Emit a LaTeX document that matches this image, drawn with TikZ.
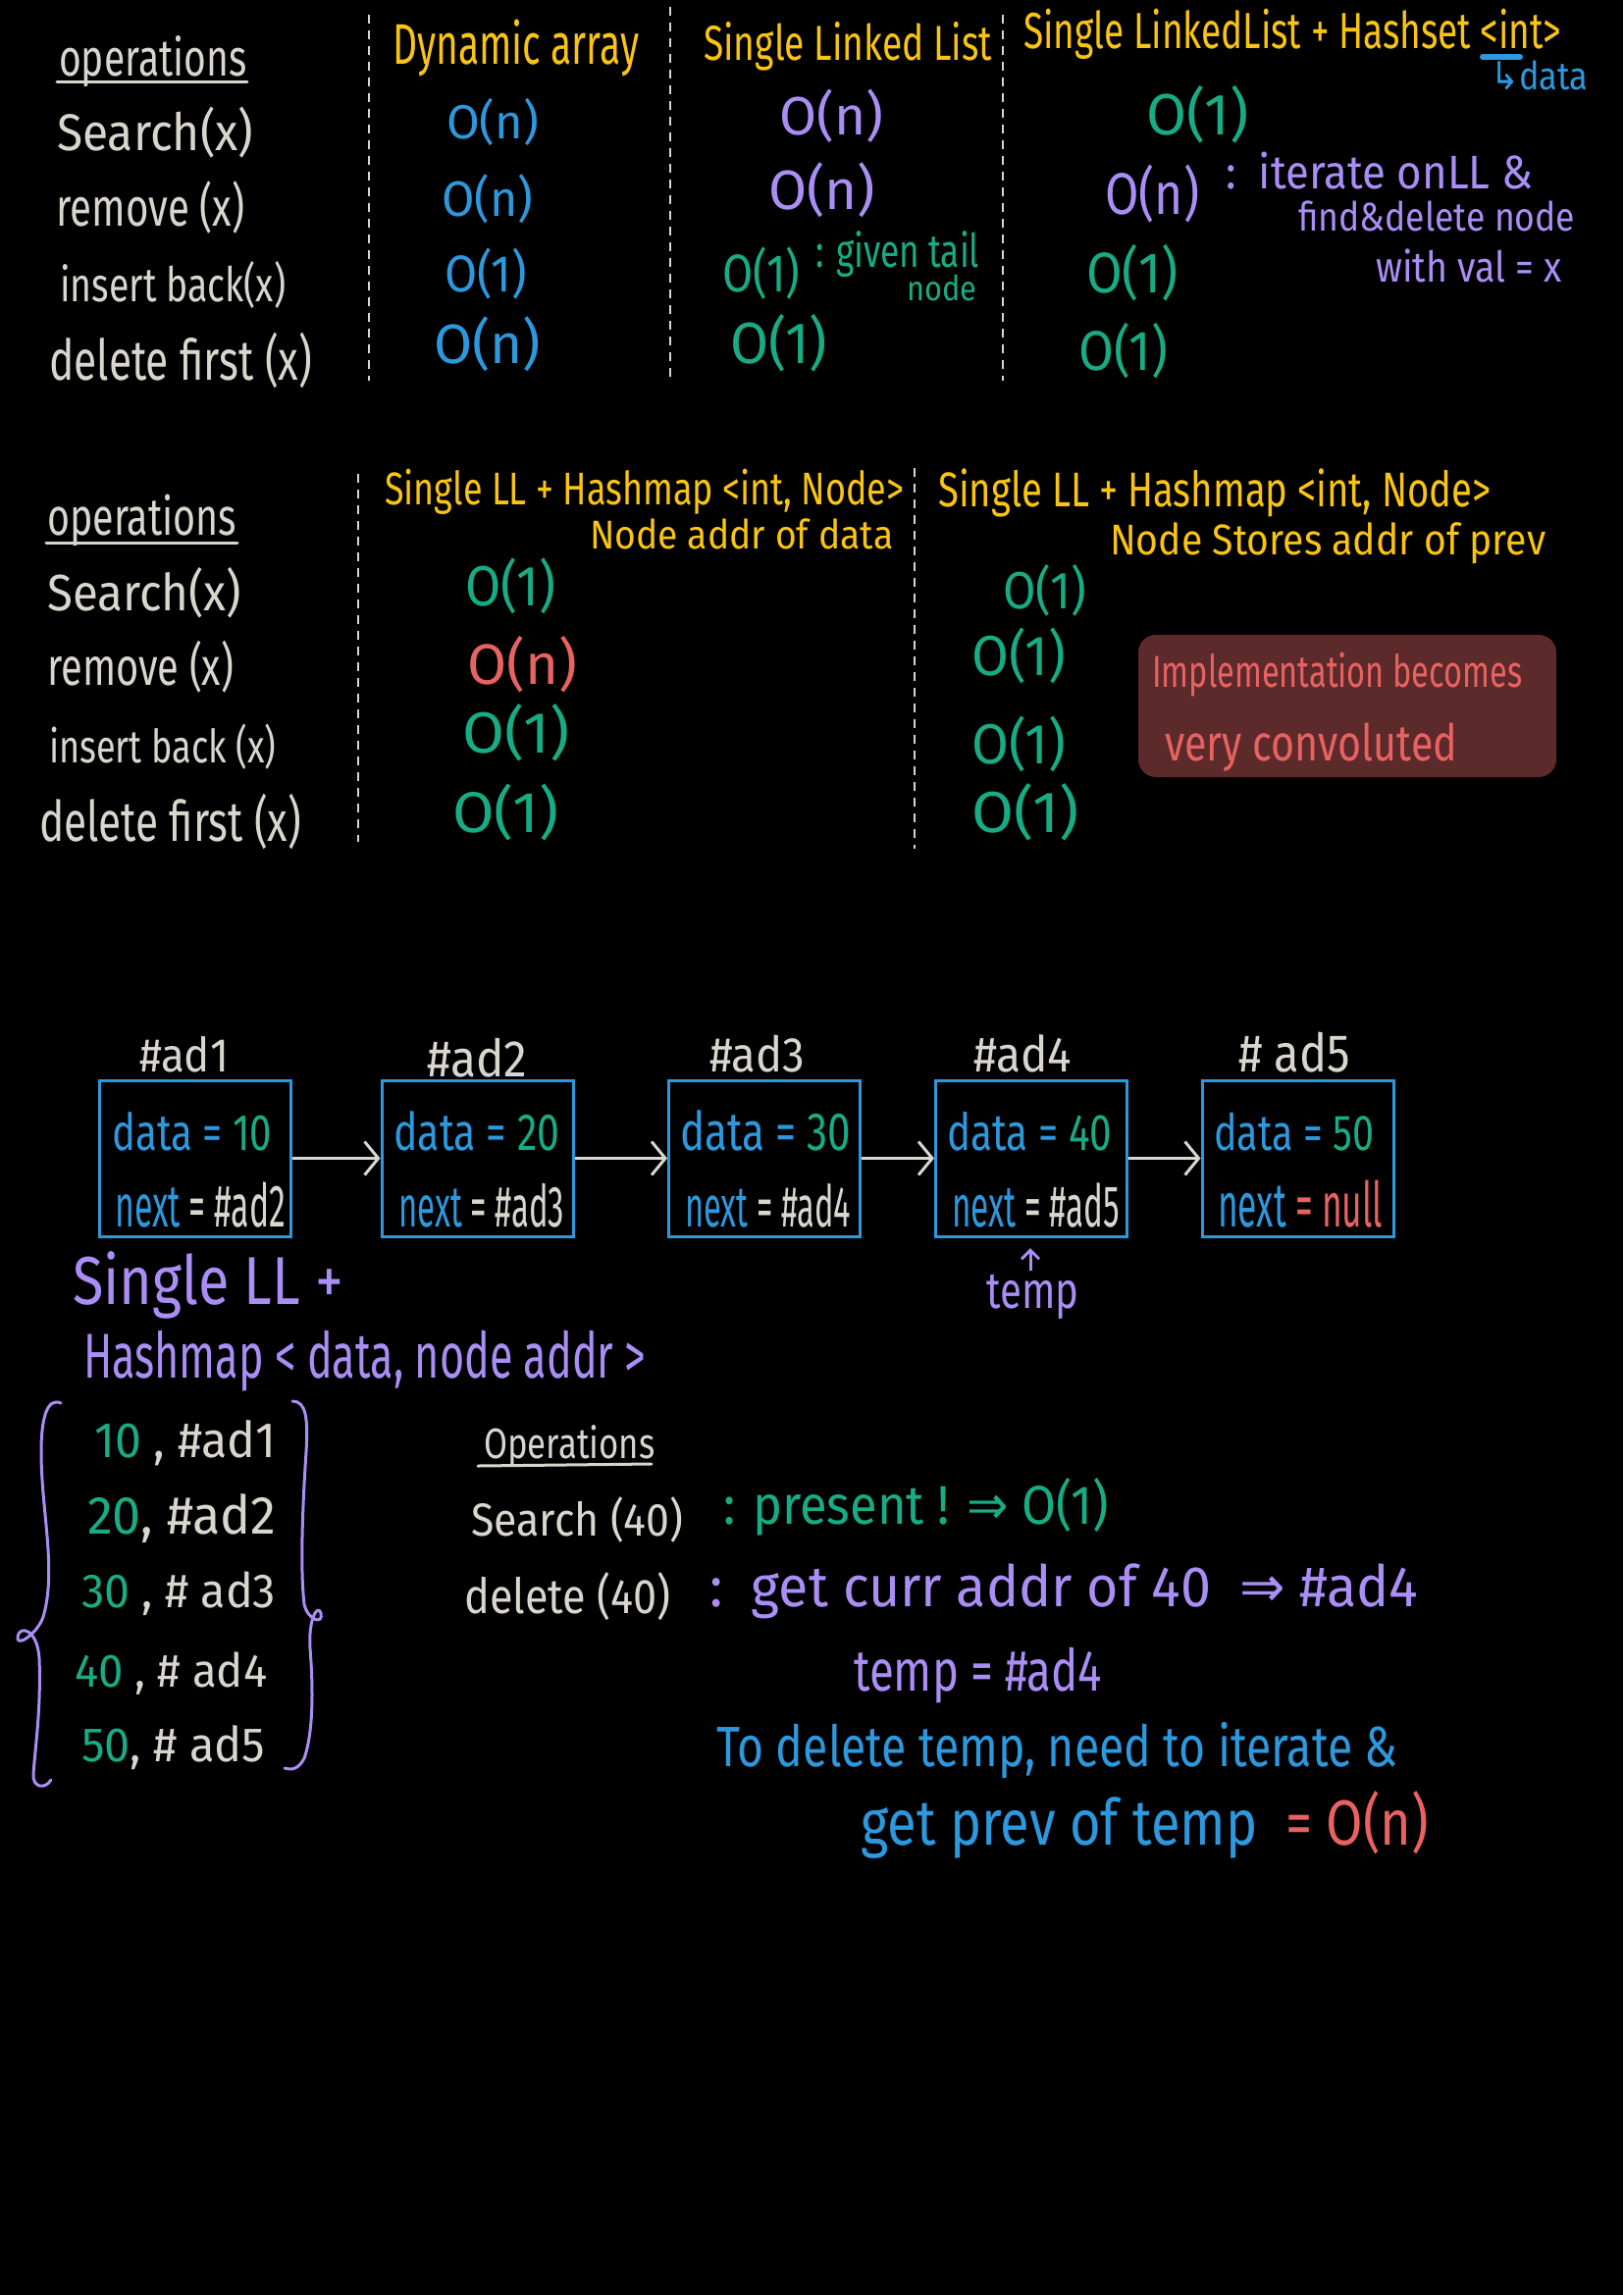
\documentclass[tikz,border=0pt]{standalone}
\usepackage{fontspec}
\setmainfont{Fira Sans}
\newfontfamily\symf{DejaVu Sans}
\usetikzlibrary{arrows.meta,calc}
\definecolor{chalk}{RGB}{217,214,206}
\definecolor{hyel}{RGB}{250,196,18}
\definecolor{hblue}{RGB}{45,152,222}
\definecolor{hpur}{RGB}{170,142,245}
\definecolor{hgrn}{RGB}{24,172,132}
\definecolor{hred}{RGB}{232,98,98}
\definecolor{rfill}{RGB}{92,42,42}
\newcommand{\fw}[3]{\scalebox{1}[#2]{\resizebox{#1pt}{!}{#3}}}
\begin{document}
\begin{tikzpicture}[x=1pt,y=-1pt,
  t/.style={inner sep=0pt, anchor=base west},
  ch/.style={t,text=chalk},
  ye/.style={t,text=hyel},
  bl/.style={t,text=hblue},
  pu/.style={t,text=hpur},
  gr/.style={t,text=hgrn},
  rd/.style={t,text=hred},
  uline/.style={draw=chalk,line width=3pt,line cap=round},
  sep/.style={draw=chalk,line width=2.5pt,dash pattern=on 9pt off 7pt},
  llbox/.style={draw=hblue,line width=3pt,minimum width=195pt,minimum height=159pt,inner sep=0pt},
  llarrow/.style={draw=chalk,line width=3pt,-{Straight Barb[length=14pt,width=34pt,line width=3pt]}},
  tarrow/.style={draw=hpur,line width=3pt,-{Straight Barb[length=9pt,width=18pt,line width=3pt]}},
  bracepath/.style={draw=hpur,line width=3pt,line cap=round,line join=round},
  notebox/.style={fill=rfill,rounded corners=18pt,minimum width=426pt,minimum height=145pt,inner sep=0pt}
]
\fill[black] (0,0) rectangle (1654,2339);
\useasboundingbox (0,0) rectangle (1654,2339);

% ---------------- Table 1 ----------------
\node[ch] (op1) at (60,78) {\fw{191}{1.35}{operations}};
\draw[uline] (58,84) -- (252,84);
\node[ch] (s1) at (58,153) {\fw{200}{1.1}{Search(x)}};
\node[ch] (r1) at (57,230) {\fw{192}{1.35}{remove (x)}};
\node[ch] (i1) at (61,307) {\fw{230}{1.3}{insert back(x)}};
\node[ch] (d1) at (50,387) {\fw{268}{1.35}{delete first (x)}};

\draw[sep] (376,15) -- (376,388);
\draw[sep] (683,7) -- (683,385);
\draw[sep] (1022,15) -- (1022,388);

\node[ye] (h1) at (400,66) {\fw{251}{1.5}{Dynamic array}};
\node[ye] (h2) at (717,62) {\fw{294}{1.35}{Single Linked List}};
\node[ye] (h3) at (1043,50) {\fw{548}{1.4}{Single LinkedList + Hashset <int>}};
\draw[draw=hblue,line width=6pt,line cap=round] (1511,58) -- (1549,58);
\node[bl] (hd) at (1519,92) {\fw{99}{1.15}{{\symf ↳}data}};

\node[bl] (a1) at (455,142) {\fw{94}{1}{O(n)}};
\node[bl] (a2) at (450,220) {\fw{93}{1.05}{O(n)}};
\node[bl] (a3) at (453,297) {\fw{84}{1.1}{O(1)}};
\node[bl] (a4) at (442,370) {\fw{109}{1}{O(n)}};

\node[pu] (b1) at (794,137) {\fw{106}{1}{O(n)}};
\node[pu] (b2) at (783,213) {\fw{109}{1}{O(n)}};
\node[gr] (b3) at (736,297) {\fw{79}{1.2}{O(1)}};
\node[gr] (b3a) at (831,272) {\fw{167}{1.35}{: given tail}};
\node[gr] (b3b) at (924,306) {\fw{71}{1.15}{node}};
\node[gr] (b4) at (744,370) {\fw{99}{1.05}{O(1)}};

\node[gr] (c1) at (1168,137) {\fw{104}{1}{O(1)}};
\node[pu] (c2) at (1126,218) {\fw{96}{1.2}{O(n)}};
\node[pu] (c2a) at (1249,193) {\fw{313}{1.1}{:\ \ iterate onLL \&}};
\node[pu] (c2b) at (1323,235) {\fw{282}{1.15}{find\&delete node}};
\node[pu] (c2c) at (1402,287) {\fw{189}{1.15}{with val = x}};
\node[gr] (c3) at (1107,298) {\fw{93}{1.1}{O(1)}};
\node[gr] (c4) at (1099,377) {\fw{91}{1.1}{O(1)}};

% ---------------- Table 2 ----------------
\node[ch] (op2) at (48,545) {\fw{193}{1.35}{operations}};
\draw[uline] (47,553) -- (242,553);
\node[ch] (s2) at (48,622) {\fw{198}{1.1}{Search(x)}};
\node[ch] (r2) at (48,698) {\fw{190}{1.35}{remove (x)}};
\node[ch] (i2) at (50,777) {\fw{231}{1.3}{insert back (x)}};
\node[ch] (d2) at (40,857) {\fw{267}{1.35}{delete first (x)}};

\draw[sep] (365,483) -- (365,858);
\draw[sep] (932,477) -- (932,865);

\node[ye] (h4) at (392,514) {\fw{529}{1.3}{Single LL + Hashmap <int, Node>}};
\node[ye] (h4b) at (601,559) {\fw{309}{1.1}{Node addr of data}};
\node[ye] (h5) at (956,516) {\fw{563}{1.3}{Single LL + Hashmap <int, Node>}};
\node[ye] (h5b) at (1131,565) {\fw{444}{1.12}{Node Stores addr of prev}};

\node[gr] (e1) at (474,617) {\fw{92}{1.1}{O(1)}};
\node[rd] (e2) at (476,697) {\fw{112}{1}{O(n)}};
\node[gr] (e3) at (471,767) {\fw{109}{0.95}{O(1)}};
\node[gr] (e4) at (461,848) {\fw{108}{0.95}{O(1)}};

\node[gr] (f1) at (1022,620) {\fw{85}{1.1}{O(1)}};
\node[gr] (f2) at (990,688) {\fw{96}{1.05}{O(1)}};
\node[gr] (f3) at (990,778) {\fw{96}{1.05}{O(1)}};
\node[gr] (f4) at (990,848) {\fw{109}{0.95}{O(1)}};

\node[notebox] (rbox) at (1373,719.5) {};
\node[rd] (g1) at (1174,700) {\fw{377}{1.4}{Implementation becomes}};
\node[rd] (g2) at (1187,775) {\fw{298}{1.25}{very convoluted}};

% ---------------- Linked list ----------------
\node[llbox] (n1) at (199,1180.5) {};
\node[llbox] (n2) at (486.5,1180.5) {};
\node[llbox] (n3) at (779,1180.5) {};
\node[llbox] (n4) at (1051,1180.5) {};
\node[llbox] (n5) at (1322.5,1180.5) {};

\node[ch] (l1) at (142,1092) {\fw{91}{1.1}{\#ad1}};
\node[ch] (l2) at (435,1097) {\fw{102}{1.1}{\#ad2}};
\node[ch] (l3) at (723,1092) {\fw{97}{1.1}{\#ad3}};
\node[ch] (l4) at (992,1092) {\fw{100}{1.1}{\#ad4}};
\node[ch] (l5) at (1262,1092) {\fw{114}{1.15}{\# ad5}};

\node[t] (dt1) at (114,1172) {\fw{163}{1.3}{\textcolor{hblue}{data =} \textcolor{hgrn}{10}}};
\node[t] (nx1) at (117,1250) {\fw{174}{1.8}{\textcolor{hblue}{next} \textcolor{chalk}{= \#ad2}}};
\node[t] (dt2) at (401,1172) {\fw{169}{1.3}{\textcolor{hblue}{data =} \textcolor{hgrn}{20}}};
\node[t] (nx2) at (406,1250) {\fw{169}{1.8}{\textcolor{hblue}{next} \textcolor{chalk}{= \#ad3}}};
\node[t] (dt3) at (693,1172) {\fw{174}{1.3}{\textcolor{hblue}{data =} \textcolor{hgrn}{30}}};
\node[t] (nx3) at (698,1250) {\fw{169}{1.8}{\textcolor{hblue}{next} \textcolor{chalk}{= \#ad4}}};
\node[t] (dt4) at (965,1172) {\fw{168}{1.3}{\textcolor{hblue}{data =} \textcolor{hgrn}{40}}};
\node[t] (nx4) at (970,1250) {\fw{171}{1.8}{\textcolor{hblue}{next} \textcolor{chalk}{= \#ad5}}};
\node[t] (dt5) at (1237,1172) {\fw{163}{1.3}{\textcolor{hblue}{data =} \textcolor{hgrn}{50}}};
\node[t] (nx5) at (1241,1250) {\fw{168}{1.8}{\textcolor{hblue}{next} \textcolor{hred}{= null}}};

\draw[llarrow] (n1) -- (n2);
\draw[llarrow] (n2) -- (n3);
\draw[llarrow] (n3) -- (n4);
\draw[llarrow] (n4) -- (n5);

\node[pu] (temp) at (1005,1333) {\fw{94}{1.3}{temp}};
\coordinate (tt) at (1050,1272);
\draw[tarrow] (temp.north -| tt) ++(0,-4) -- (tt);

% ---------------- Hashmap ----------------
\node[pu] (hm1) at (74,1329) {\fw{276}{1.2}{Single LL +}};
\node[pu] (hm2) at (85,1404) {\fw{573}{1.5}{Hashmap < data, node addr >}};

\draw[bracepath] (62,1430) .. controls (48,1424) and (42,1445) .. (42,1480)
  .. controls (42,1540) and (58,1600) .. (44,1648)
  .. controls (38,1665) and (16,1680) .. (18,1668)
  .. controls (20,1656) and (38,1660) .. (40,1690)
  .. controls (42,1740) and (36,1780) .. (34,1808)
  .. controls (33,1822) and (46,1824) .. (52,1814);
\draw[bracepath] (298,1428) .. controls (312,1428) and (314,1445) .. (312,1480)
  .. controls (308,1540) and (306,1600) .. (310,1635)
  .. controls (314,1652) and (330,1656) .. (327,1644)
  .. controls (324,1634) and (314,1650) .. (316,1680)
  .. controls (320,1730) and (318,1770) .. (310,1792)
  .. controls (304,1804) and (296,1804) .. (290,1802);

\node[t] (k1) at (96,1485) {\fw{185}{1.05}{\textcolor{hgrn}{10} \textcolor{chalk}{, \#ad1}}};
\node[t] (k2) at (89,1563) {\fw{192}{1.05}{\textcolor{hgrn}{20}\textcolor{chalk}{, \#ad2}}};
\node[t] (k3) at (83,1638) {\fw{198}{1.05}{\textcolor{hgrn}{30} \textcolor{chalk}{, \# ad3}}};
\node[t] (k4) at (76,1719) {\fw{196}{1.05}{\textcolor{hgrn}{40} \textcolor{chalk}{, \# ad4}}};
\node[t] (k5) at (83,1795) {\fw{187}{1.05}{\textcolor{hgrn}{50}\textcolor{chalk}{, \# ad5}}};

% ---------------- Operations on hashmap ----------------
\node[ch] (op3) at (493,1486) {\fw{174}{1.25}{Operations}};
\draw[uline] (487,1494) -- (664,1492);
\node[ch] (q1) at (480,1565) {\fw{216}{1.1}{Search (40)}};
\node[ch] (q2) at (473,1644) {\fw{210}{1.15}{delete (40)}};
\node[gr] (q1a) at (737,1553) {\fw{393}{1.1}{: present ! {\symf ⇒} O(1)}};
\node[pu] (q2a) at (723,1637) {\fw{722}{1.05}{:\ \ get curr addr of 40 \ {\symf ⇒} \#ad4}};
\node[pu] (q3) at (870,1723) {\fw{253}{1.3}{temp = \#ad4}};
\node[bl] (q4) at (730,1800) {\fw{694}{1.25}{To delete temp, need to iterate \&}};
\node[bl] (q5) at (877,1880) {\fw{579}{1.2}{get prev of temp \ \textcolor{hred}{= O(n)}}};

\end{tikzpicture}
\end{document}
